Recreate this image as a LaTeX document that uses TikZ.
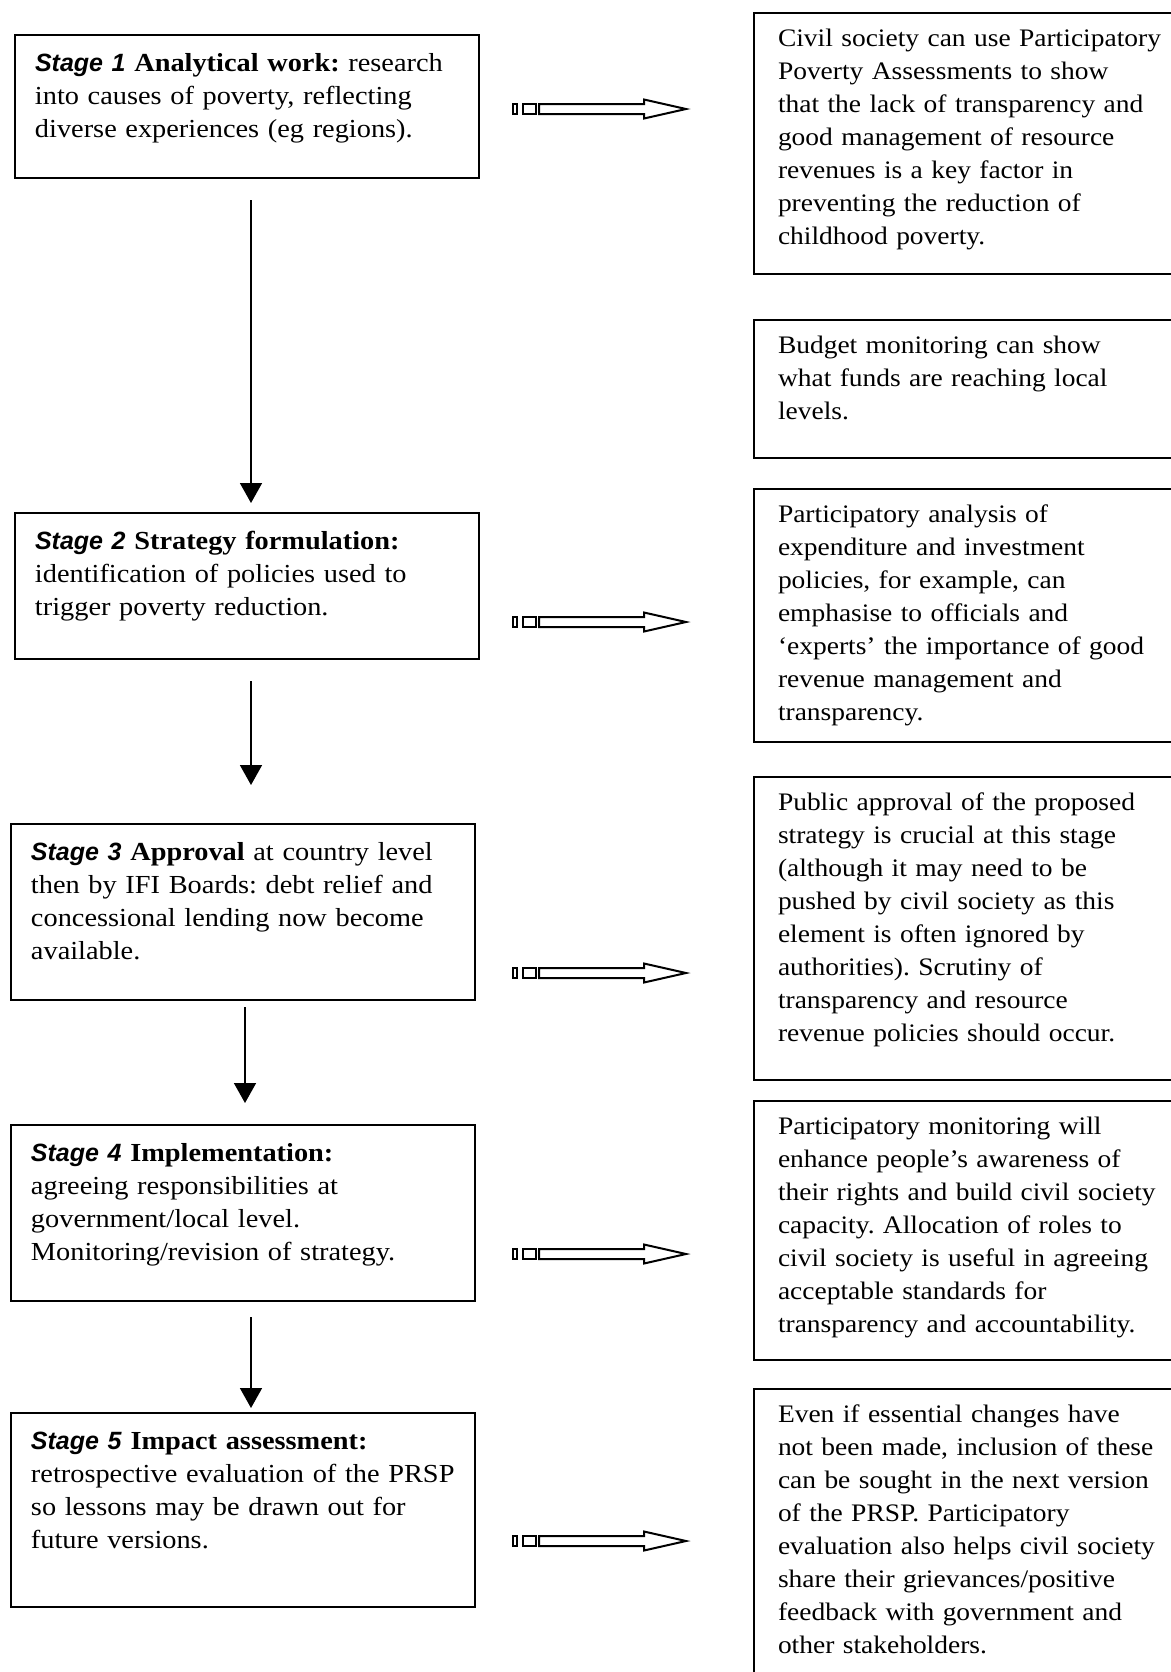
\documentclass[tikz,border=0pt]{standalone}
\usepackage{fontspec}
\setmainfont{Liberation Serif}[FakeStretch=1.09]
\newfontfamily\stagefont{Liberation Sans}
\usetikzlibrary{arrows.meta}
\newcommand{\stagelabel}[1]{{\stagefont\bfseries\itshape\fontsize{12.5}{16.5}\selectfont Stage #1}}
\frenchspacing

\begin{document}
\begin{tikzpicture}[x=0.5pt, y=-0.5pt,
		stage/.style={draw, line width=1pt, anchor=north west, align=left,
			text width=212pt, inner xsep=10pt, inner ysep=0pt, text height=18pt,
			font=\fontsize{13}{16.5}\selectfont},
		note/.style={draw, line width=1pt, anchor=north west, align=left,
			text width=205pt, inner xsep=12pt, inner ysep=0pt, text height=16.75pt,
			font=\fontsize{12.6}{16.5}\selectfont},
		flow/.style={-{Triangle[length=10pt, width=11pt]}, line width=0.8pt},
		fatarrow/.pic={
			\draw[line width=1pt] (0,-5) rectangle (4,5);
			\draw[line width=1pt] (10,-5) rectangle (23,5);
			\draw[line width=1pt] (26,-5) -- (131,-5) -- (131,-9.5) -- (173,0)
				-- (131,9.5) -- (131,5) -- (26,5) -- cycle;}
		]
		\useasboundingbox (0,0) rectangle (1171,1672);
		\fill[white] (0,0) rectangle (1171,1672);
		\clip (0,0) rectangle (1171,1672);
		% stages
		\node[stage, text depth=53.5pt] (s1) at (14,34) {\stagelabel{1} \textbf{Analytical work:} research\\ into causes of poverty, reflecting\\ diverse experiences (eg regions).};
		\node[stage, text depth=55pt] (s2) at (14,512) {\stagelabel{2} \textbf{Strategy formulation:}\\ identification of policies used to\\ trigger poverty reduction.};
		\node[stage, text depth=70pt] (s3) at (10,823) {\stagelabel{3} \textbf{Approval} at country level\\ then by IFI Boards: debt relief and\\ concessional lending now become\\ available.};
		\node[stage, text depth=70pt] (s4) at (10,1124) {\stagelabel{4} \textbf{Implementation:}\\ agreeing responsibilities at\\ government/local level.\\ Monitoring/revision of strategy.};
		\node[stage, text depth=79pt] (s5) at (10,1412) {\stagelabel{5} \textbf{Impact assessment:}\\ retrospective evaluation of the PRSP\\ so lessons may be drawn out for\\ future versions.};
		% civil society notes
		\node[note, text depth=113.75pt] (r1) at (753,12) {Civil society can use Participatory\\ Poverty Assessments to show\\ that the lack of transparency and\\ good management of resource\\ revenues is a key factor in\\ preventing the reduction of\\ childhood poverty.};
		\node[note, text depth=52.25pt] (r2) at (753,319) {Budget monitoring can show\\ what funds are reaching local\\ levels.};
		\node[note, text depth=109.75pt] (r3) at (753,488) {Participatory analysis of\\ expenditure and investment\\ policies, for example, can\\ emphasise to officials and\\ ‘experts’ the importance of good\\ revenue management and\\ transparency.};
		\node[note, text depth=134.75pt] (r4) at (753,776) {Public approval of the proposed\\ strategy is crucial at this stage\\ (although it may need to be\\ pushed by civil society as this\\ element is often ignored by\\ authorities). Scrutiny of\\ transparency and resource\\ revenue policies should occur.};
		\node[note, text depth=112.75pt] (r5) at (753,1100) {Participatory monitoring will\\ enhance people’s awareness of\\ their rights and build civil society\\ capacity. Allocation of roles to\\ civil society is useful in agreeing\\ acceptable standards for\\ transparency and accountability.};
		\node[note, text depth=133pt] (r6) at (753,1388) {Even if essential changes have\\ not been made, inclusion of these\\ can be sought in the next version\\ of the PRSP. Participatory\\ evaluation also helps civil society\\ share their grievances/positive\\ feedback with government and\\ other stakeholders.};
		% stage to stage
		\draw[flow, shorten <=10.5pt, shorten >=4.5pt] ([xshift=2pt]s1.south) -- ([xshift=2pt]s1.south |- s2.north);
		\draw[flow, shorten <=10.5pt, shorten >=19pt] ([xshift=2pt]s2.south) -- ([xshift=2pt]s2.south |- s3.north);
		\draw[flow, shorten <=3pt, shorten >=10.5pt] ([xshift=1pt]s3.south) -- ([xshift=1pt]s3.south |- s4.north);
		\draw[flow, shorten <=7.5pt, shorten >=2pt] ([xshift=4pt]s4.south) -- ([xshift=4pt]s4.south |- s5.north);
		% stage to note
		\foreach \y in {109, 622, 973, 1254, 1541}
			\pic at (513,\y) {fatarrow};
	\end{tikzpicture}
\end{document}
